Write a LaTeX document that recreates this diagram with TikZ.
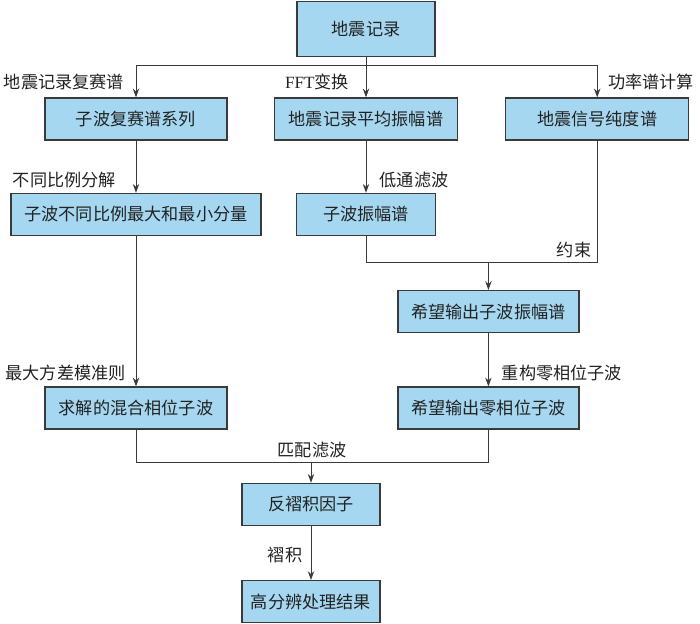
\documentclass[tikz,border=0pt]{standalone}
\usepackage{fontspec}
\setmainfont{Noto Sans CJK SC}
\newfontfamily\latinfont{Liberation Serif}
\usepackage{xcolor}
\usetikzlibrary{arrows.meta, positioning, calc}
\definecolor{flowblue}{HTML}{A5D8F0}
\definecolor{flowline}{HTML}{3A3A3A}
\definecolor{flowtext}{HTML}{222222}

\begin{document}
\begin{tikzpicture}[
  every node/.style={font=\fontsize{12.2pt}{14pt}\selectfont, text=flowtext},
  stepbox/.style={rectangle, draw=flowline, fill=flowblue, line width=0.9pt, minimum height=1.05cm, inner sep=0pt, align=center},
  lbl/.style={inner sep=0pt},
  link/.style={draw=flowline, line width=0.7pt},
  arr/.style={link, -{Stealth[length=2.2mm, width=1.6mm]}},
]
\useasboundingbox (0,0) rectangle (17.5,-15.575);

% Row 1: input record
\node[stepbox, minimum width=3.45cm, minimum height=1.38cm] (rec) at (9.15,-0.72) {地震记录};

% Row 2: three spectra
\node[stepbox, minimum width=4.55cm] (cspec) at (3.4,-2.975) {子波复赛谱系列};
\node[stepbox, minimum width=4.575cm] (aspec) at (9.15,-2.975) {地震记录平均振幅谱};
\node[stepbox, minimum width=4.575cm] (pspec) at (14.93,-2.975) {地震信号纯度谱};

\coordinate (j1) at (9.15,-1.625);
\draw[arr] (rec) -- (aspec);
\draw[arr] (j1) -| (cspec);
\draw[arr] (j1) -| (pspec);

\node[lbl] (l1) at (1.6,-2.05) {地震记录复赛谱};
\node[lbl] (l2) at (7.925,-2.05) {{\latinfont FFT}变换};
\node[lbl] (l3) at (16.28,-2.05) {功率谱计算};

% Row 3
\node[stepbox, minimum width=6.25cm] (comp) at (3.4,-5.36) {子波不同比例最大和最小分量};
\node[stepbox, minimum width=3.475cm] (wamp) at (9.15,-5.36) {子波振幅谱};

\draw[arr] (cspec) -- (comp);
\draw[arr] (aspec) -- (wamp);

\node[lbl] (l4) at (1.61,-4.5) {不同比例分解};
\node[lbl] (l5) at (10.35,-4.5) {低通滤波};

% Row 4: desired amplitude spectrum
\node[stepbox, minimum width=4.525cm] (damp) at (12.21,-7.79) {希望输出子波振幅谱};

\coordinate (j2) at (12.21,-6.55);
\draw[link] (wamp.south) |- (pspec.south |- j2) -- (pspec.south);
\draw[arr] (j2) -- (damp);

\node[lbl] (l6) at (14.35,-6.25) {约束};

% Row 5
\node[stepbox, minimum width=4.55cm] (mixw) at (3.4,-10.2) {求解的混合相位子波};
\node[stepbox, minimum width=4.525cm] (zerow) at (12.21,-10.2) {希望输出零相位子波};

\draw[arr] (comp) -- (mixw);
\draw[arr] (damp) -- (zerow);

\node[lbl] (l7) at (1.64,-9.33) {最大方差模准则};
\node[lbl] (l8) at (14.05,-9.33) {重构零相位子波};

% Row 6-7: deconvolution
\node[stepbox, minimum width=3.45cm] (decon) at (7.775,-12.61) {反褶积因子};
\node[stepbox, minimum width=3.45cm] (result) at (7.775,-15.04) {高分辨处理结果};

\coordinate (j3) at (7.775,-11.55);
\draw[link] (mixw.south) |- (zerow.south |- j3) -- (zerow.south);
\draw[arr] (j3) -- (decon);
\draw[arr] (decon) -- (result);

\node[lbl] (l9) at (7.8,-11.25) {匹配滤波};
\node[lbl] (l10) at (7.125,-13.875) {褶积};

\end{tikzpicture}
\end{document}
